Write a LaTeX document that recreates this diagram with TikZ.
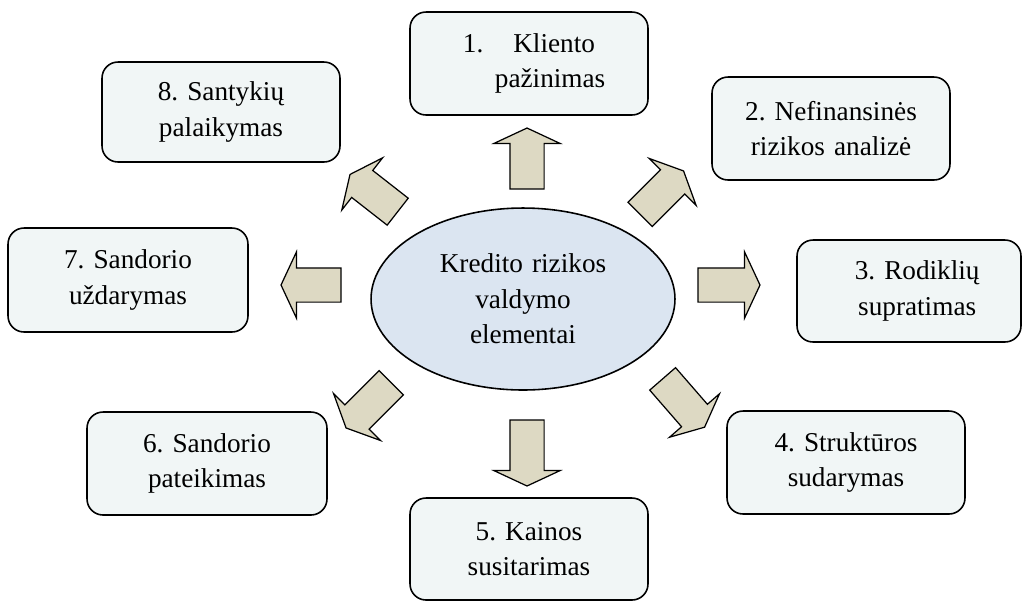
\documentclass[tikz,border=0pt]{standalone}
\usepackage{fontspec}
\setmainfont{Liberation Serif}
\usepackage{tikz}
\usetikzlibrary{shapes.geometric, shapes.arrows}
\definecolor{boxfill}{HTML}{F1F6F6}
\definecolor{ellfill}{HTML}{DBE5F1}
\definecolor{arrfill}{HTML}{DDD9C3}
\frenchspacing
\tikzset{
    stage/.style={rectangle, draw, line width=0.9pt, rounded corners=0.32cm, fill=boxfill, minimum width=4.76cm, minimum height=2.06cm, text width=4.4cm, align=center, inner sep=0pt},
    core/.style={ellipse, draw, line width=0.9pt, fill=ellfill, minimum width=6.08cm, minimum height=3.64cm, text width=4cm, align=center, inner sep=0pt},
    blockarrow/.style={single arrow, draw, line width=0.7pt, fill=arrfill, inner xsep=0pt, inner ysep=0.33cm, single arrow head extend=0.32cm, single arrow tip angle=130},
}

\begin{document}
\begin{tikzpicture}[x=0.02cm, y=-0.02cm, font=\fontsize{15.5}{20.2}\selectfont]
    \useasboundingbox (0,0) rectangle (1023,600);
    \node[core] (core) at (523, 299) {Kredito rizikos\\valdymo\\elementai};
    \node[stage] (s1) at (529, 63.5) {1.\hspace{1.1em}Kliento\\\hspace*{1.55em}pažinimas};
    \node[stage] (s2) at (831, 128.5) {2. Nefinansinės\\rizikos analizė};
    \node[stage, minimum width=4.48cm, minimum height=2.04cm] (s3) at (909, 291) {\hspace*{0.6em}3. Rodiklių\\\hspace*{0.6em}supratimas};
    \node[stage] (s4) at (846, 462.5) {4. Struktūros\\sudarymas};
    \node[stage, minimum height=2.04cm] (s5) at (529, 549) {5. Kainos\\susitarimas};
    \node[stage, minimum width=4.8cm] (s6) at (207, 463.5) {6. Sandorio\\pateikimas};
    \node[stage, minimum width=4.8cm, minimum height=2.08cm] (s7) at (128, 280) {7. Sandorio\\uždarymas};
    \node[stage, minimum height=2.0cm] (s8) at (221, 112) {8. Santykių\\palaikymas};
    % arrows from the centre to the stages
    \node[blockarrow, minimum height=1.22cm, rotate=90] (a1) at (527, 162.5) {};
    \node[blockarrow, minimum height=1.23cm, rotate=45] (a2) at (659, 195.5) {};
    \node[blockarrow, minimum height=1.24cm] (a3) at (725, 285) {};
    \node[blockarrow, minimum height=1.28cm, rotate=-49] (a4) at (681, 400) {};
    \node[blockarrow, minimum height=1.32cm, rotate=-90] (a5) at (527, 449) {};
    \node[blockarrow, minimum height=1.28cm, rotate=225] (a6) at (371.5, 402.5) {};
    \node[blockarrow, minimum height=1.2cm, rotate=180] (a7) at (315, 285) {};
    \node[blockarrow, minimum height=1.21cm, rotate=142] (a8) at (377, 195.5) {};
\end{tikzpicture}
\end{document}
